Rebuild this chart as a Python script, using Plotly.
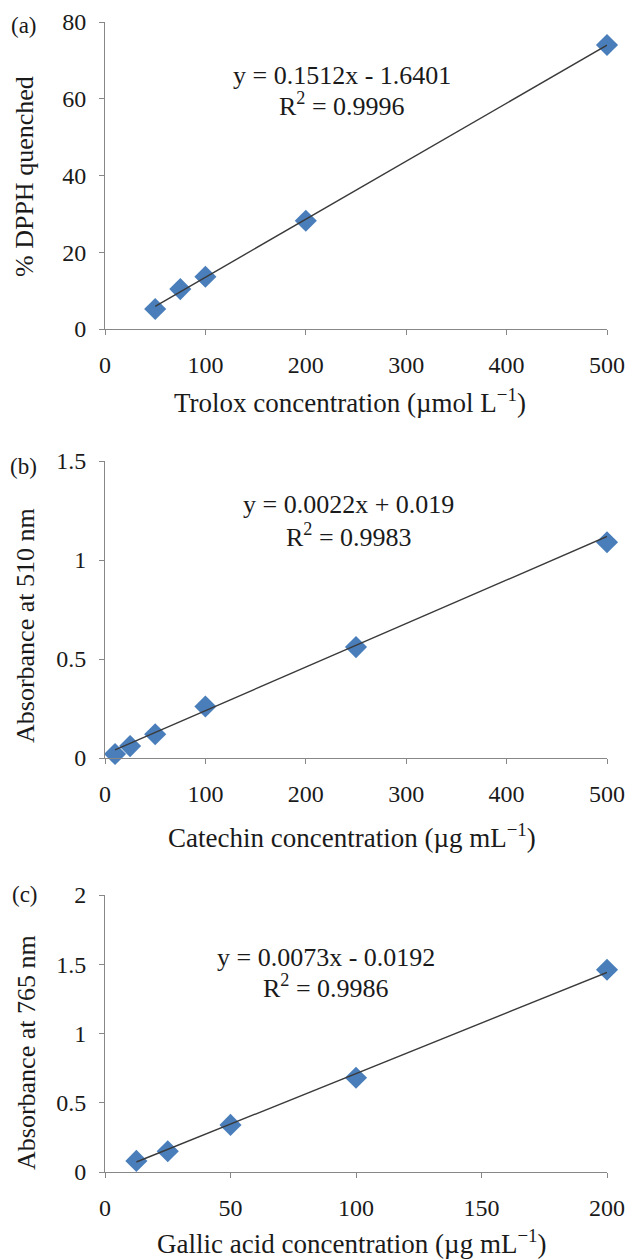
import plotly.graph_objects as go

W, H = 629, 1259

# ---- data ----
trolox_x = [50, 75, 100, 200, 500]
trolox_y = [5.2, 10.4, 13.6, 28.2, 74.0]
trolox_fit = (0.1512, -1.6401)

catechin_x = [10, 25, 50, 100, 250, 500]
catechin_y = [0.02, 0.06, 0.12, 0.26, 0.56, 1.09]
catechin_fit = (0.0022, 0.019)

gallic_x = [12.5, 25, 50, 100, 200]
gallic_y = [0.08, 0.15, 0.34, 0.68, 1.46]
gallic_fit = (0.0073, -0.0192)

panels = [
    dict(label="(a)", x=trolox_x, y=trolox_y, fit=trolox_fit,
         xrange=[0, 500], xticks=[0, 100, 200, 300, 400, 500],
         yrange=[0, 80], yticks=[0, 20, 40, 60, 80], ytext=["0", "20", "40", "60", "80"],
         xtitle="Trolox concentration (µmol L<sup>−1</sup>)",
         ytitle="% DPPH quenched",
         eq=["y = 0.1512x - 1.6401", "R<sup>2</sup> = 0.9996"]),
    dict(label="(b)", x=catechin_x, y=catechin_y, fit=catechin_fit,
         xrange=[0, 500], xticks=[0, 100, 200, 300, 400, 500],
         yrange=[0, 1.5], yticks=[0, 0.5, 1, 1.5], ytext=["0", "0.5", "1", "1.5"],
         xtitle="Catechin concentration (µg mL<sup>−1</sup>)",
         ytitle="Absorbance at 510 nm",
         eq=["y = 0.0022x + 0.019", "R<sup>2</sup> = 0.9983"]),
    dict(label="(c)", x=gallic_x, y=gallic_y, fit=gallic_fit,
         xrange=[0, 200], xticks=[0, 50, 100, 150, 200],
         yrange=[0, 2], yticks=[0, 0.5, 1, 1.5, 2], ytext=["0", "0.5", "1", "1.5", "2"],
         xtitle="Gallic acid concentration (µg mL<sup>−1</sup>)",
         ytitle="Absorbance at 765 nm",
         eq=["y = 0.0073x - 0.0192", "R<sup>2</sup> = 0.9986"]),
]

# ---- layout geometry (pixels) ----
x_left, x_right = 105, 607
boxes = [(22, 329), (461, 758), (895, 1172)]   # (top, bottom) of each plot area
label_pos = [(24, 25), (23, 466), (25, 894)]
eq_pos = [(342, 75, 105), (349, 505, 535), (326, 957, 987)]
xtitle_pos = [(350, 401), (352, 836), (352, 1242)]
ytitle_pos = [(24, 177), (25, 626), (26, 1053)]

def px(x):
    return x / W

def py(y):
    return 1 - y / H

FONT = "Liberation Serif"
TXT = "#1a1a1a"
AX_COLOR = "#878787"
MARK_COLOR = "#4a7ebb"

fig = go.Figure()
annotations = []

def ann(text, x, y, size, angle=0):
    annotations.append(dict(text=text, x=px(x), y=py(y), xref="paper", yref="paper",
                            showarrow=False, xanchor="center", yanchor="middle", textangle=angle,
                            font=dict(family=FONT, size=size, color=TXT)))

for i, p in enumerate(panels):
    n = "" if i == 0 else str(i + 1)
    top, bot = boxes[i]
    slope, icpt = p["fit"]
    lx = [p["x"][0], p["x"][-1]]
    ly = [slope * v + icpt for v in lx]
    fig.add_trace(go.Scatter(x=p["x"], y=p["y"], mode="markers", xaxis="x" + n, yaxis="y" + n,
                             marker=dict(symbol="diamond", size=17, color=MARK_COLOR),
                             showlegend=False, cliponaxis=False))
    fig.add_trace(go.Scatter(x=lx, y=ly, mode="lines", xaxis="x" + n, yaxis="y" + n,
                             line=dict(color="#3a3a3a", width=1.4), showlegend=False,
                             cliponaxis=False))
    common = dict(showgrid=False, zeroline=False, showline=True, linecolor=AX_COLOR, linewidth=1,
                  ticks="outside", ticklen=5, tickcolor=AX_COLOR, automargin=False,
                  tickfont=dict(family=FONT, size=24, color=TXT))
    fig.layout["xaxis" + n] = dict(common, domain=[px(x_left), px(x_right)], range=p["xrange"],
                                   tickvals=p["xticks"], anchor="y" + n, ticklabelstandoff=9)
    fig.layout["yaxis" + n] = dict(common, domain=[py(bot), py(top)], range=p["yrange"],
                                   tickvals=p["yticks"], ticktext=p["ytext"], anchor="x" + n,
                                   ticklabelstandoff=8)
    ann(p["label"], *label_pos[i], 23)
    ex, ey1, ey2 = eq_pos[i]
    ann(p["eq"][0], ex, ey1, 26)
    ann(p["eq"][1], ex, ey2, 26)
    ann(p["xtitle"], *xtitle_pos[i], 27)
    ann(p["ytitle"], *ytitle_pos[i], 26, angle=-90)

fig.update_layout(width=W, height=H, margin=dict(l=0, r=0, t=0, b=0),
                  paper_bgcolor="white", plot_bgcolor="white", annotations=annotations)

fig.write_html("out.html", config={"displayModeBar": False},
               post_script="document.body.style.margin='0px';document.body.style.overflow='hidden';")
